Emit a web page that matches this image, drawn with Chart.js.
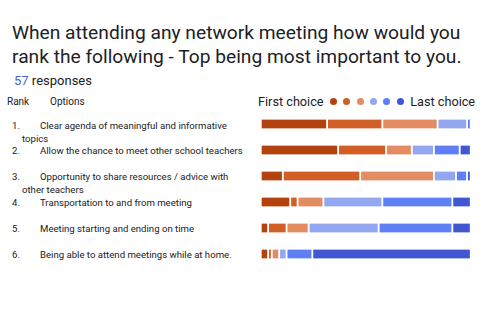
<!DOCTYPE html>
<html>
<head>
<meta charset="utf-8">
<script src="https://cdn.jsdelivr.net/npm/chart.js@4.4.0/dist/chart.umd.min.js"></script>
<style>
    body { margin: 0; width: 480px; height: 320px; background: #fff; font-family: Roboto, "Noto Sans", sans-serif; color: #202124; position: relative; overflow: hidden; }
    #title { position: absolute; left: 12px; top: 21px; width: 470px; font-size: 19.2px; line-height: 23.5px; }
    #count { position: absolute; left: 14px; top: 73px; font-size: 13px; }
    #count span { color: #4c63cf; }
    .hdr { position: absolute; top: 96px; font-size: 10px; }
    .opt { position: absolute; left: 22px; width: 226px; font-size: 9.6px; line-height: 12.5px; text-indent: -10px; }
    .opt b { font-weight: normal; display: inline-block; width: 28px; text-indent: 0; }
    #legend { position: absolute; left: 258px; top: 94px; font-size: 12.7px; white-space: nowrap; }
    #legend i { display: inline-block; width: 7px; height: 7px; border-radius: 50%; margin-right: 6.4px; vertical-align: 1px; }
    #wrap { position: absolute; left: 261px; top: 111px; width: 210px; height: 156px; }
</style>
</head>
<body>
<div id="title">When attending any network meeting how would you rank the following - Top being most important to you.</div>
<div id="count"><span>57</span> responses</div>
<div class="hdr" style="left:7px">Rank</div>
<div class="hdr" style="left:50px">Options</div>
<div id="options"></div>
<div id="legend"></div>
<div id="wrap"><canvas id="rankChart"></canvas></div>
<script>
const options = [
    'Clear agenda of meaningful and informative topics',
    'Allow the chance to meet other school teachers',
    'Opportunity to share resources / advice with other teachers',
    'Transportation to and from meeting',
    'Meeting starting and ending on time',
    'Being able to attend meetings while at home.'
];
const choiceNames = ['1st', '2nd', '3rd', '4th', '5th', '6th'];
const choiceColors = ['#b3420f', '#d15f25', '#e38b61', '#92a7ef', '#5f7ff6', '#3f57d2'];
// responses per option for each choice (1st .. 6th)
const choice1 = [18, 21, 6, 8, 2, 2];
const choice2 = [15, 13, 21, 2, 5, 1];
const choice3 = [15, 7, 20, 7, 6, 2];
const choice4 = [8, 6, 6, 16, 19, 2];
const choice5 = [1, 7, 3, 19, 20, 7];
const choice6 = [0, 3, 1, 5, 5, 43];
const totalResponses = 57;
const rowTops = [120, 145, 171, 197, 223, 249];

document.addEventListener('DOMContentLoaded', function () {
    const optBox = document.getElementById('options');
    options.forEach(function (text, i) {
        const d = document.createElement('div');
        d.className = 'opt';
        d.style.top = rowTops[i] + 'px';
        d.innerHTML = '<b>' + (i + 1) + '.</b>' + text;
        optBox.appendChild(d);
    });

    const legend = document.getElementById('legend');
    let html = 'First choice&nbsp; ';
    choiceColors.forEach(c => { html += '<i style="background:' + c + '"></i>'; });
    legend.innerHTML = html + 'Last choice';

    const series = [choice1, choice2, choice3, choice4, choice5, choice6];
    const ctx = document.getElementById('rankChart').getContext('2d');
    new Chart(ctx, {
        type: 'bar',
        data: {
            labels: options,
            datasets: series.map((vals, i) => ({
                label: choiceNames[i],
                data: vals,
                backgroundColor: choiceColors[i],
                borderColor: '#ffffff',
                borderWidth: { left: 1, right: 1.5, top: 0, bottom: 0 },
                borderSkipped: false,
                barThickness: 9
            }))
        },
        options: {
            indexAxis: 'y',
            responsive: true,
            maintainAspectRatio: false,
            animation: false,
            layout: { padding: 0 },
            scales: {
                x: { stacked: true, min: 0, max: totalResponses, display: false },
                y: { stacked: true, display: false }
            },
            plugins: {
                legend: { display: false },
                tooltip: { enabled: false }
            }
        }
    });
});
</script>
</body>
</html>
